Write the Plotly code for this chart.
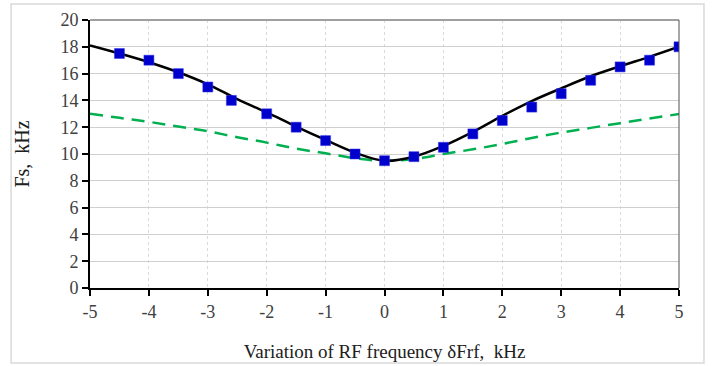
import plotly.graph_objects as go

# Measured points (blue squares)
meas_x = [-4.5, -4, -3.5, -3, -2.6, -2, -1.5, -1, -0.5, 0, 0.5, 1, 1.5, 2, 2.5, 3, 3.5, 4, 4.5, 5]
meas_y = [17.5, 17.0, 16.0, 15.0, 14.0, 13.0, 12.0, 11.0, 10.0, 9.5, 9.8, 10.5, 11.5, 12.5, 13.5, 14.5, 15.5, 16.5, 17.0, 18.0]

# Curves
curve_x = [-5, -4.5, -4, -3.5, -3, -2.5, -2, -1.5, -1, -0.5, 0, 0.5, 1, 1.5, 2, 2.5, 3, 3.5, 4, 4.5, 5]
black_y = [18.1, 17.5, 16.85, 16.1, 15.2, 14.1, 13.1, 12.05, 11.05, 10.1, 9.5, 9.8, 10.6, 11.65, 12.85, 13.95, 14.9, 15.8, 16.55, 17.25, 18.0]
green_y = [13.0, 12.7, 12.4, 12.05, 11.7, 11.25, 10.85, 10.4, 10.05, 9.68, 9.48, 9.62, 10.0, 10.35, 10.75, 11.2, 11.6, 11.95, 12.3, 12.65, 12.98]

x_ticks = [-5, -4, -3, -2, -1, 0, 1, 2, 3, 4, 5]
x_tick_text = ["-5", "-4", "-3", "-2", "-1", "0", "1", "2", "3", "4", "5"]
y_ticks = [0, 2, 4, 6, 8, 10, 12, 14, 16, 18, 20]

FONT = "Liberation Serif"

fig = go.Figure()
fig.add_trace(go.Scatter(x=curve_x, y=green_y, mode="lines", line=dict(color="#00B050", width=2.5, dash="13px,8px", shape="spline"), showlegend=False))
fig.add_trace(go.Scatter(x=curve_x, y=black_y, mode="lines", line=dict(color="black", width=2.5, shape="spline"), showlegend=False))
fig.add_trace(go.Scatter(x=meas_x, y=meas_y, mode="markers", marker=dict(symbol="square", size=10, color="#0000CC", line=dict(color="#3333EE", width=0.5)), showlegend=False))

fig.update_layout(
    width=712, height=366,
    margin=dict(l=90, r=33, t=20, b=78),
    paper_bgcolor="white", plot_bgcolor="white",
    font=dict(family=FONT, size=18, color="#404040"),
    shapes=[
        dict(type="rect", xref="paper", yref="paper", x0=-0.134, x1=1.0424, y0=-0.28, y1=1.0597,
             line=dict(color="#d9d9d9", width=1.5), layer="below"),
        dict(type="line", xref="paper", yref="paper", x0=0, x1=1, y0=1, y1=1, line=dict(color="#a0a0a0", width=2)),
        dict(type="line", xref="paper", yref="paper", x0=1, x1=1, y0=0, y1=1, line=dict(color="#505050", width=1)),
    ],
)
fig.update_xaxes(
    range=[-5, 5], tickvals=x_ticks, ticktext=x_tick_text, automargin=False,
    showline=True, linecolor="black", linewidth=2,
    ticks="outside", ticklen=6, tickwidth=1.5, tickcolor="black",
    showgrid=True, gridcolor="#d9d9d9", griddash="dot", gridwidth=1,
    zeroline=False,
    title=dict(text="Variation of RF frequency δFrf,  kHz", font=dict(family=FONT, size=19, color="#202020"), standoff=24),
    tickfont=dict(family=FONT, size=18, color="#404040"),
)
fig.update_yaxes(
    range=[0, 20], tickvals=y_ticks, automargin=False,
    showline=True, linecolor="black", linewidth=2,
    ticks="outside", ticklen=6, tickwidth=1.5, tickcolor="black",
    showgrid=True, gridcolor="#cfcfcf", gridwidth=1,
    zeroline=False,
    title=dict(text="Fs,  kHz", font=dict(family=FONT, size=20, color="#202020"), standoff=25),
    tickfont=dict(family=FONT, size=18, color="#404040"),
)

fig.write_html("out.html")
